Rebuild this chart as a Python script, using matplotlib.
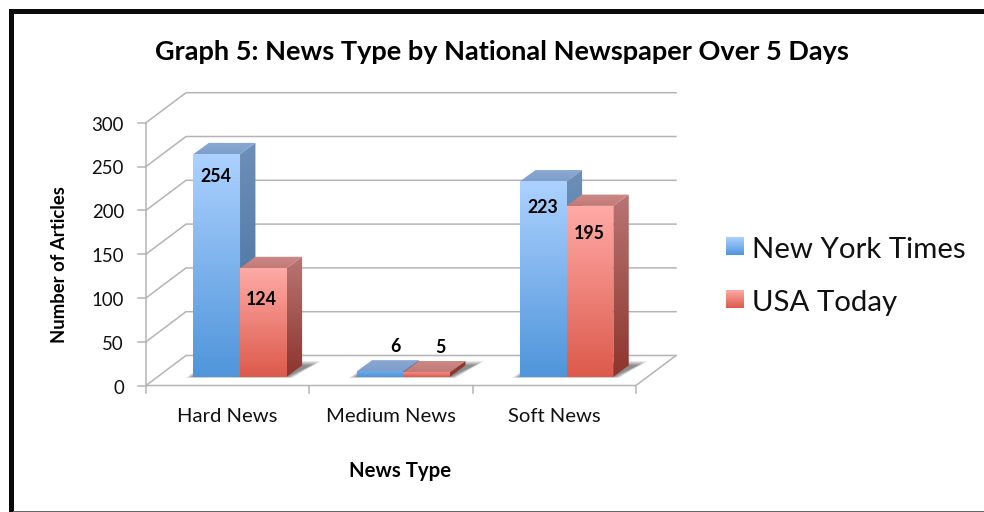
import numpy as np
import matplotlib
matplotlib.use("Agg")
import matplotlib.pyplot as plt
from matplotlib.colors import LinearSegmentedColormap
from matplotlib.patches import Polygon, Rectangle

plt.rcParams['font.family'] = ['Lato', 'DejaVu Sans']

categories = ["Hard News", "Medium News", "Soft News"]
series_names = ["New York Times", "USA Today"]
nyt_values = [254, 6, 223]
usa_values = [124, 5, 195]
y_ticks = [0, 50, 100, 150, 200, 250, 300]

W, H = 984, 512
ORIGIN_X, ORIGIN_Y = 146.0, 385.5     # pixel position of category 0, value 0
PX_PER_CAT, PX_PER_VAL = 163.33, 0.876

fig = plt.figure(figsize=(W / 100, H / 100), dpi=100, facecolor="white")
ax = fig.add_axes([0, 0, 1, 1])
ax.set_xlim(-ORIGIN_X / PX_PER_CAT, (W - ORIGIN_X) / PX_PER_CAT)
ax.set_ylim((ORIGIN_Y - H) / PX_PER_VAL, ORIGIN_Y / PX_PER_VAL)
ax.axis("off")


def dx(px):
    return px / PX_PER_CAT


def dy(px):
    return px / PX_PER_VAL


# Oblique projection of the box: wall depth and bar depth
WALL_X, WALL_Y = dx(40), dy(30)
BAR_X, BAR_Y = dx(15.4), dy(11.3)
BAR_LIFT = dy(8.8)                    # bars stand slightly behind the front floor edge
BAR_W = 2 / 7
BAR_START = 0.29

GRID = "#b4b4b4"
LW = 1.1

# Walls and floor
for v in y_ticks:
    ax.plot([0, WALL_X, 3 + WALL_X], [v, v + WALL_Y, v + WALL_Y],
            color=GRID, lw=LW, zorder=1, solid_joinstyle="miter")
    ax.plot([-dx(8), 0], [v, v], color=GRID, lw=LW, zorder=1)
ax.plot([0, 0], [0, 300], color=GRID, lw=LW, zorder=1)
ax.plot([0, 3, 3 + WALL_X], [0, 0, WALL_Y], color=GRID, lw=LW, zorder=1)
for i in range(4):
    ax.plot([i, i], [0, -dy(7)], color=GRID, lw=LW, zorder=1)


def gradient_face(points, top, bottom, y0, y1, zorder):
    """Fill a polygon with a vertical gradient running from y1 (top) to y0 (bottom)."""
    cmap = LinearSegmentedColormap.from_list("face", [bottom, top])
    xs = [p[0] for p in points]
    grad = np.linspace(0, 1, 128).reshape(-1, 1)
    im = ax.imshow(grad, origin="lower", cmap=cmap, aspect="auto", vmin=0, vmax=1,
                   extent=[min(xs), max(xs), y0, y1], zorder=zorder,
                   interpolation="bilinear")
    clip = Polygon(points, closed=True, transform=ax.transData, fc="none", ec="none")
    ax.add_patch(clip)
    im.set_clip_path(clip)


def floor_shadow(x0, x1, zorder):
    """Soft shadow cast on the floor, built from nested translucent layers."""
    base = BAR_LIFT
    for grow in np.linspace(10, 0, 14):
        pts = [(x0 - dx(grow * 0.8), base - dy(grow * 0.12)),
               (x1 + dx(grow * 0.6), base - dy(grow * 0.12)),
               (x1 + BAR_X + dx(9 + grow), base + BAR_Y + dy(grow * 0.45)),
               (x0 + BAR_X, base + BAR_Y + dy(grow * 0.45))]
        ax.add_patch(Polygon(pts, closed=True, fc="#000000", ec="none",
                             alpha=0.04, zorder=zorder))


BLUE = dict(front=("#acd1ff", "#4f95da"), side=("#6d8fb8", "#3f6c9e"), top=("#8aa9d2", "#7d9ecb"))
RED = dict(front=("#ffaaa6", "#dc5a4b"), side=("#b87573", "#8d352c"), top=("#cc8a87", "#c27a76"))


def draw_bar(x, value, style, zorder):
    y0, y1 = BAR_LIFT, BAR_LIFT + value
    x1 = x + BAR_W
    # Front, right side and top faces of the box
    front = [(x, y0), (x1, y0), (x1, y1), (x, y1)]
    side = [(x1, y0), (x1 + BAR_X, y0 + BAR_Y), (x1 + BAR_X, y1 + BAR_Y), (x1, y1)]
    top = [(x, y1), (x1, y1), (x1 + BAR_X, y1 + BAR_Y), (x + BAR_X, y1 + BAR_Y)]
    # Shade by height so short bars pick up only the foot of the ramp
    frac = min(1.0, value / 120)
    mix = lambda a, b: tuple(np.array(matplotlib.colors.to_rgb(b)) * (1 - frac)
                             + np.array(matplotlib.colors.to_rgb(a)) * frac)
    short = value < 20
    f_top = "#6fa9ea" if short and style is BLUE else ("#f58a84" if short else style["front"][0])
    s_top = mix(style["side"][0], style["side"][1])
    gradient_face(side, s_top, style["side"][1], y0, y1 + BAR_Y, zorder)
    gradient_face(top, style["top"][0], style["top"][1], y1, y1 + BAR_Y, zorder + 0.1)
    gradient_face(front, f_top, style["front"][1], y0, y1, zorder + 0.2)


for i in range(len(categories)):
    x = i + BAR_START
    floor_shadow(x, x + 2 * BAR_W, 2)
    draw_bar(x, nyt_values[i], BLUE, 3 + i)
    draw_bar(x + BAR_W, usa_values[i], RED, 3.5 + i)

# Data labels, nudged in pixels from the front face of each bar
nyt_label_offsets = [(23, -21), (39, 26), (23, -25)]
usa_label_offsets = [(21, -30), (37, 26), (23, -26)]
for i in range(len(categories)):
    for j, (vals, offs) in enumerate(((nyt_values, nyt_label_offsets),
                                      (usa_values, usa_label_offsets))):
        x = i + BAR_START + j * BAR_W
        ax.annotate(str(vals[i]), (x, BAR_LIFT + vals[i]),
                    xytext=(offs[i][0] * 0.72, offs[i][1] * 0.72),
                    textcoords="offset points", ha="center", va="center_baseline",
                    fontsize=12.8, fontweight="bold", color="black", zorder=20)

# Axis text
for v in y_ticks:
    ax.text(-dx(22), v - dy(2.5), str(v), ha="right", va="center", fontsize=13.4, color="#111111")
for i, c in enumerate(categories):
    ax.text(i + 0.5, -dy(31), c, ha="center", va="center", fontsize=14.6, color="#111111")
ax.text(dx(400 - ORIGIN_X), dy(ORIGIN_Y - 471), "News Type", ha="center", va="center",
        fontsize=14.7, fontweight="bold")
ax.text(dx(60 - ORIGIN_X), dy(ORIGIN_Y - 265), "Number of Articles", rotation=90,
        ha="center", va="center", fontsize=13.3, fontweight="bold")
ax.text(dx(502 - ORIGIN_X), dy(ORIGIN_Y - 52), "Graph 5: News Type by National Newspaper Over 5 Days",
        ha="center", va="center", fontsize=19.5, fontweight="bold")

# Legend
for name, style, py, ty in zip(series_names, (BLUE, RED), (246, 299), (250, 303)):
    left, right = dx(726 - ORIGIN_X), dx(744 - ORIGIN_X)
    low, high = dy(ORIGIN_Y - (py + 9)), dy(ORIGIN_Y - (py - 9))
    gradient_face([(left, low), (right, low), (right, high), (left, high)],
                  style["front"][0], style["front"][1], low, high, 5)
    ax.text(dx(752 - ORIGIN_X), dy(ORIGIN_Y - ty), name, ha="left", va="center",
            fontsize=21.2, color="#111111")

ax.set_xlim(-ORIGIN_X / PX_PER_CAT, (W - ORIGIN_X) / PX_PER_CAT)
ax.set_ylim((ORIGIN_Y - H) / PX_PER_VAL, ORIGIN_Y / PX_PER_VAL)

# Slide border: heavy top and left rules, thin grey rule along the bottom
fig.add_artist(Rectangle((9 / W, 0), 4.5 / W, 1 - 9 / H, transform=fig.transFigure,
                         fc="#0a0a0a", ec="none"))
fig.add_artist(Rectangle((9 / W, 1 - 13.5 / H), 1, 4.5 / H, transform=fig.transFigure,
                         fc="#0a0a0a", ec="none"))
fig.add_artist(Rectangle((13 / W, 0), 1, 1.5 / H, transform=fig.transFigure,
                         fc="#666666", ec="none"))

fig.savefig("out.png", dpi=100, facecolor="white")
